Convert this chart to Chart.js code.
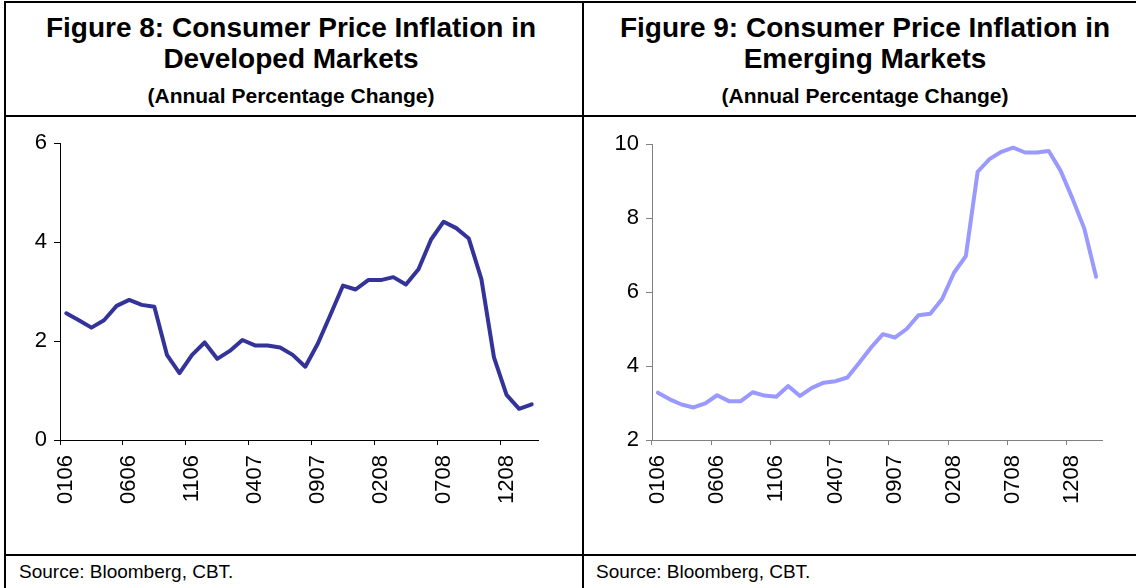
<!DOCTYPE html>
<html>
<head>
<meta charset="utf-8">
<script src="https://cdn.jsdelivr.net/npm/chart.js@4.4.1/dist/chart.umd.min.js"></script>
<style>
html,body{margin:0;padding:0;background:#fff;}
body{width:1136px;height:588px;position:relative;overflow:hidden;font-family:"Liberation Sans",Arial,sans-serif;color:#000;}
.ln{position:absolute;background:#000;}
.t{position:absolute;text-align:center;font-weight:bold;white-space:nowrap;}
.t1{font-size:28px;line-height:30px;height:30px;}
.t3{font-size:21px;line-height:24px;height:24px;}
.src{position:absolute;font-size:19px;line-height:22px;white-space:nowrap;}
canvas{position:absolute;}
</style>
</head>
<body>
<!-- frame lines -->
<div class="ln" style="left:4px;top:1px;width:1132px;height:2px;"></div>
<div class="ln" style="left:4px;top:1px;width:2px;height:587px;"></div>
<div class="ln" style="left:582px;top:1px;width:2px;height:587px;"></div>
<div class="ln" style="left:4px;top:115px;width:1132px;height:2px;"></div>
<div class="ln" style="left:4px;top:554px;width:1132px;height:2px;"></div>

<div class="t t1" style="left:0px;width:582px;top:13px;">Figure 8: Consumer Price Inflation in</div>
<div class="t t1" style="left:0px;width:582px;top:44px;">Developed Markets</div>
<div class="t t3" style="left:0px;width:582px;top:84px;">(Annual Percentage Change)</div>

<div class="t t1" style="left:584px;width:562px;top:13px;">Figure 9: Consumer Price Inflation in</div>
<div class="t t1" style="left:584px;width:562px;top:44px;">Emerging Markets</div>
<div class="t t3" style="left:584px;width:562px;top:84px;">(Annual Percentage Change)</div>

<div class="src" style="left:19px;top:561px;">Source: Bloomberg, CBT.</div>
<div class="src" style="left:596px;top:561px;">Source: Bloomberg, CBT.</div>

<canvas id="c1" width="576" height="434" style="left:6px;top:118px;width:576px;height:434px;"></canvas>
<canvas id="c2" width="546" height="434" style="left:590px;top:118px;width:546px;height:434px;"></canvas>

<script>
// ---- data ----
const months = ['0106','0206','0306','0406','0506','0606','0706','0806','0906','1006','1106','1206',
                '0107','0207','0307','0407','0507','0607','0707','0807','0907','1007','1107','1207',
                '0108','0208','0308','0408','0508','0608','0708','0808','0908','1008','1108','1208',
                '0109','0209'];
const developed = [2.56,2.42,2.27,2.42,2.71,2.83,2.73,2.69,1.72,1.35,1.72,1.97,
                   1.64,1.80,2.02,1.91,1.91,1.87,1.72,1.48,1.95,2.53,3.12,3.04,
                   3.23,3.23,3.29,3.14,3.45,4.05,4.41,4.28,4.07,3.25,1.67,0.91,
                   0.63,0.72];
const emerging = [3.28,3.10,2.96,2.88,2.99,3.21,3.05,3.05,3.29,3.20,3.17,3.46,
                  3.19,3.41,3.55,3.59,3.69,4.09,4.50,4.86,4.77,5.00,5.37,5.41,
                  5.81,6.52,6.97,9.25,9.59,9.79,9.90,9.77,9.77,9.81,9.28,8.53,
                  7.72,6.41];
const devTicks = [0, 2, 4, 6];
const emTicks = [2, 4, 6, 8, 10];
const labelEvery = 5;

Chart.defaults.font.family = '"Liberation Sans", Arial, sans-serif';
Chart.defaults.color = '#000';

function makeChart(id, values, color, axisColor, yTicks, yWidth, padRight, padTop) {
  return new Chart(document.getElementById(id), {
    type: 'line',
    data: {
      labels: months,
      datasets: [{
        data: values,
        borderColor: color,
        borderWidth: 4,
        pointRadius: 0,
        tension: 0,
        fill: false,
        borderJoinStyle: 'round',
        borderCapStyle: 'round'
      }]
    },
    options: {
      responsive: false,
      animation: false,
      events: [],
      layout: { padding: { left: 0, top: padTop, right: padRight, bottom: 0 } },
      plugins: { legend: { display: false }, tooltip: { enabled: false }, title: { display: false } },
      scales: {
        x: {
          type: 'category',
          offset: true,
          grid: {
            offset: true,
            drawOnChartArea: false,
            drawTicks: true,
            tickLength: 5,
            tickWidth: 1,
            tickColor: (ctx) => (ctx.index % labelEvery === 0 && ctx.index < months.length) ? axisColor : 'rgba(0,0,0,0)'
          },
          border: { display: true, color: axisColor, width: 1 },
          ticks: {
            autoSkip: false,
            minRotation: 90,
            maxRotation: 90,
            padding: 10,
            font: { size: 22 },
            color: '#000',
            callback: (v, i) => (i % labelEvery === 0 ? months[i] : '')
          },
          afterFit: (s) => { s.height = 112; }
        },
        y: {
          min: yTicks[0],
          max: yTicks[yTicks.length - 1],
          afterBuildTicks: (s) => { s.ticks = yTicks.map(v => ({ value: v })); },
          grid: { drawOnChartArea: false, drawTicks: true, tickLength: 6, color: axisColor, tickWidth: 1 },
          border: { display: true, color: axisColor, width: 1 },
          ticks: { padding: 7, font: { size: 22 }, color: '#000' },
          afterFit: (s) => { s.width = yWidth; }
        }
      }
    }
  });
}

makeChart('c1', developed, '#333399', '#000000', devTicks, 54, 44, 25);
makeChart('c2', emerging, '#9999FF', '#808080', emTicks, 62, 34, 26);
</script>
</body>
</html>
